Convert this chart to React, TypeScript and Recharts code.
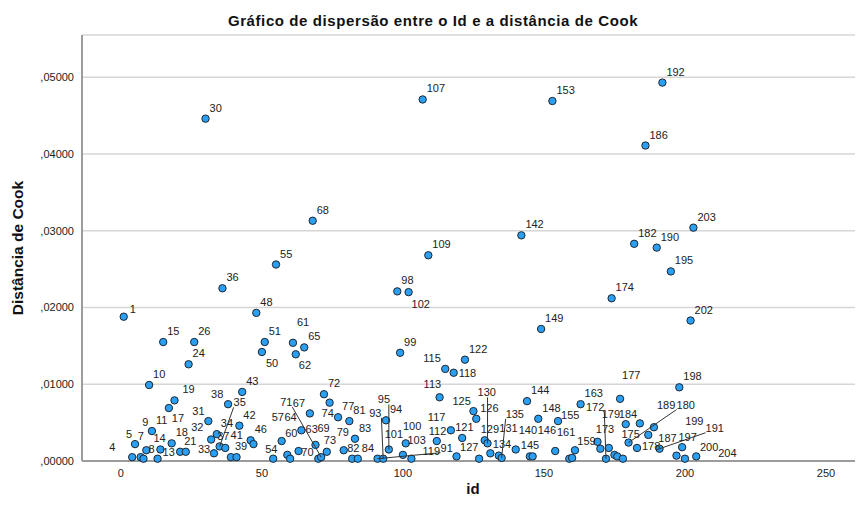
import React from 'react';
import { ScatterChart, Scatter, XAxis, YAxis, CartesianGrid } from 'recharts';

// Case ids and their Cook's distance
const ids = [
    1, 4, 5, 7, 8, 9, 10, 11, 13, 14, 15, 17, 18, 19, 21, 23, 24, 26, 30, 31,
    32, 33, 34, 35, 36, 37, 38, 39, 41, 42, 43, 46, 47, 48, 50, 51, 54, 55, 57, 59,
    60, 61, 62, 63, 64, 65, 67, 68, 69, 70, 71, 72, 73, 74, 77, 79, 81, 82, 83, 84,
    91, 93, 94, 95, 98, 99, 100, 101, 102, 103, 107, 109, 112, 113, 115, 117, 118, 119, 121, 122,
    125, 126, 127, 129, 130, 131, 134, 135, 140, 142, 144, 145, 146, 148, 149, 153, 154, 155, 159, 160,
    161, 163, 169, 170, 172, 173, 174, 175, 176, 177, 178, 179, 180, 182, 183, 184, 186, 187, 189, 190,
    191, 192, 195, 197, 198, 199, 200, 202, 203, 204,
];
const cookDistances = [
    0.0188, 0.0005, 0.0022, 0.0005, 0.0003, 0.0014, 0.0099, 0.0039, 0.0003, 0.0015, 0.0155, 0.0069, 0.0023, 0.0079, 0.0012, 0.0012, 0.0126, 0.0155, 0.0446, 0.0052,
    0.0028, 0.0010, 0.0035, 0.0019, 0.0225, 0.0017, 0.0074, 0.0005, 0.0005, 0.0046, 0.0090, 0.0027, 0.0022, 0.0193, 0.0142, 0.0155, 0.0003, 0.0256, 0.0026, 0.0008,
    0.0003, 0.0154, 0.0139, 0.0013, 0.0040, 0.0148, 0.0062, 0.0313, 0.0021, 0.0003, 0.0005, 0.0087, 0.0012, 0.0076, 0.0057, 0.0014, 0.0052, 0.0003, 0.0029, 0.0003,
    0.0003, 0.0003, 0.0053, 0.0015, 0.0221, 0.0141, 0.0008, 0.0023, 0.0220, 0.0003, 0.0471, 0.0268, 0.0026, 0.0083, 0.0120, 0.0040, 0.0115, 0.0006, 0.0030, 0.0132,
    0.0065, 0.0055, 0.0003, 0.0027, 0.0023, 0.0010, 0.0007, 0.0004, 0.0015, 0.0294, 0.0078, 0.0006, 0.0006, 0.0055, 0.0172, 0.0469, 0.0013, 0.0052, 0.0003, 0.0004,
    0.0014, 0.0074, 0.0025, 0.0016, 0.0003, 0.0017, 0.0212, 0.0008, 0.0006, 0.0081, 0.0003, 0.0048, 0.0024, 0.0283, 0.0017, 0.0049, 0.0411, 0.0034, 0.0044, 0.0278,
    0.0016, 0.0493, 0.0247, 0.0007, 0.0096, 0.0018, 0.0003, 0.0183, 0.0304, 0.0006,
];
// cases that carry an id label in the chart
const labeledIds = [
    1, 4, 5, 7, 8, 9, 10, 11, 13, 14, 15, 17, 18, 19, 21, 24, 26, 30, 31, 32, 33, 34, 35, 36, 37, 38, 39, 41, 42, 43,
    46, 48, 50, 51, 54, 55, 57, 60, 61, 62, 63, 64, 65, 67, 68, 69, 70, 71, 72, 73, 74, 77, 79, 81, 82, 83, 84, 91, 93, 94,
    95, 98, 99, 100, 101, 102, 103, 107, 109, 112, 113, 115, 117, 118, 119, 121, 122, 125, 126, 127, 129, 130, 131, 134, 135,
    140, 142, 144, 145, 146, 148, 149, 153, 155, 159, 161, 163, 172, 173, 174, 175, 177, 178, 179, 180, 182, 184, 186, 187,
    189, 190, 191, 192, 195, 197, 198, 199, 200, 202, 203, 204,
];
const xTicks = [0, 50, 100, 150, 200, 250];
const yTicks = [0, 0.01, 0.02, 0.03, 0.04, 0.05];

// label placement (px from the point), SPSS moves some labels around
const DEFAULT_OFFSET: [number, number] = [4, -11];
const labelOffsets: Record<number, [number, number]> = {
    1: [6, -8], 4: [-23, -10], 5: [-9, -10], 7: [-3, -21], 8: [5, -10], 9: [-4, -28], 13: [5, -7], 14: [-7, -11],
    17: [3, 10], 19: [8, -11], 31: [-16, -10], 32: [-20, -13], 33: [-16, -4], 35: [14, -44], 37: [-8, -12],
    38: [-17, -10], 41: [-6, -22], 50: [4, 11], 54: [-8, -10], 57: [-10, -24], 60: [-5, -26], 61: [4, -21],
    62: [3, 11], 63: [7, -22], 64: [-17, -13], 67: [-17, -10], 69: [2, -17], 70: [-17, -7], 71: [-41, -55],
    73: [-3, -12], 74: [-8, 10], 79: [-7, -18], 82: [-5, -11], 91: [63, -11], 93: [-14, -46], 95: [-11, -50],
    100: [0, -29], 101: [-21, -9], 102: [3, 12], 103: [-4, -19], 112: [-8, -10], 113: [-16, -13], 115: [-22, -11],
    117: [-23, -13], 118: [5, 0], 119: [-34, -5], 121: [-7, -11], 125: [-21, -10], 127: [-19, -12], 129: [-4, -11],
    130: [-10, -51], 131: [9, -25], 134: [-6, -12], 135: [4, -44], 140: [3, -19], 145: [-9, -11], 146: [5, -26],
    155: [3, -6], 159: [8, -18], 161: [-18, -18], 172: [-20, -52], 173: [-13, -19], 175: [7, -21], 177: [2, -24],
    178: [19, -13], 179: [-24, -10], 180: [48, -38], 184: [-21, -9], 187: [10, 3], 189: [3, -22], 191: [46, -21],
    197: [2, -19], 199: [3, -26], 200: [15, -12], 204: [22, -3],
};
const leaderIds = [35, 71, 91, 93, 95, 130, 135, 172, 180, 191];

const data = ids.map((id, i) => ({
    id,
    cook: cookDistances[i],
    label: labeledIds.includes(id) ? String(id) : '',
}));

const FONT = '"Liberation Sans", Arial, sans-serif';

const formatY = (v: number) => v.toFixed(5).replace('0.', ',');

const Dot = (props: any) => (
    <circle cx={props.cx} cy={props.cy} r={3.7} fill="#2b9ff2" stroke="#1c2733" strokeWidth={1} />
);

const PointLabel = (props: any) => {
    const { cx, cy, payload } = props;
    if (!payload || !payload.label) return <g />;
    const [dx, dy] = labelOffsets[payload.id] ?? DEFAULT_OFFSET;
    const lx = cx + dx;
    const ly = cy + dy;
    const w = payload.label.length * 6.1;
    let leader = null;
    if (leaderIds.includes(payload.id)) {
        // join the point to the nearest edge of the label box
        const ex = Math.min(Math.max(cx, lx), lx + w);
        const ey = Math.min(Math.max(cy, ly - 5), ly + 5);
        leader = <line x1={cx} y1={cy} x2={ex} y2={ey} stroke="#333" strokeWidth={1} />;
    }
    return (
        <g>
            {leader}
            <text x={lx} y={ly + 4} fontSize={11} fill="#222" fontFamily={FONT}>{payload.label}</text>
        </g>
    );
};

export default function App() {
    return (
        <div style={{ position: 'fixed', left: 0, top: 0, width: 857, height: 508, background: '#fff', fontFamily: FONT }}>
            <div style={{ position: 'absolute', left: 0, width: 866, top: 12, textAlign: 'center', fontSize: 15, letterSpacing: 0.6, fontWeight: 'bold', color: '#111' }}>
                Gráfico de dispersão entre o Id e a distância de Cook
            </div>
            <div style={{ position: 'absolute', left: 400, width: 146, top: 480, textAlign: 'center', fontSize: 15, fontWeight: 'bold', color: '#111' }}>
                id
            </div>
            <div style={{ position: 'absolute', left: 18, top: 248, transform: 'translate(-50%, -50%) rotate(-90deg)', whiteSpace: 'nowrap', fontSize: 15.5, fontWeight: 'bold', color: '#111' }}>
                Distância de Cook
            </div>
            <div style={{ position: 'absolute', left: 0, top: 0 }}>
                <ScatterChart width={857} height={508} margin={{ top: 35, right: 2, bottom: 0, left: 12 }}>
                    <CartesianGrid vertical={false} stroke="#d6d6d6" strokeWidth={1.5} />
                    <XAxis
                        type="number"
                        dataKey="id"
                        domain={[-13.8, 260.3]}
                        ticks={xTicks}
                        height={47}
                        axisLine={{ stroke: '#9c9c9c', strokeWidth: 2 }}
                        tickLine={false}
                        tick={{ fill: '#222', fontSize: 11, fontFamily: FONT }}
                    />
                    <YAxis
                        type="number"
                        dataKey="cook"
                        domain={[0, 0.0555]}
                        ticks={yTicks}
                        width={70}
                        tickFormatter={formatY}
                        axisLine={{ stroke: '#9c9c9c', strokeWidth: 2 }}
                        tickLine={false}
                        tick={{ fill: '#222', fontSize: 11, fontFamily: FONT }}
                    />
                    <Scatter data={data} shape={Dot} isAnimationActive={false} />
                    <Scatter data={data} shape={PointLabel} isAnimationActive={false} />
                </ScatterChart>
            </div>
        </div>
    );
}
